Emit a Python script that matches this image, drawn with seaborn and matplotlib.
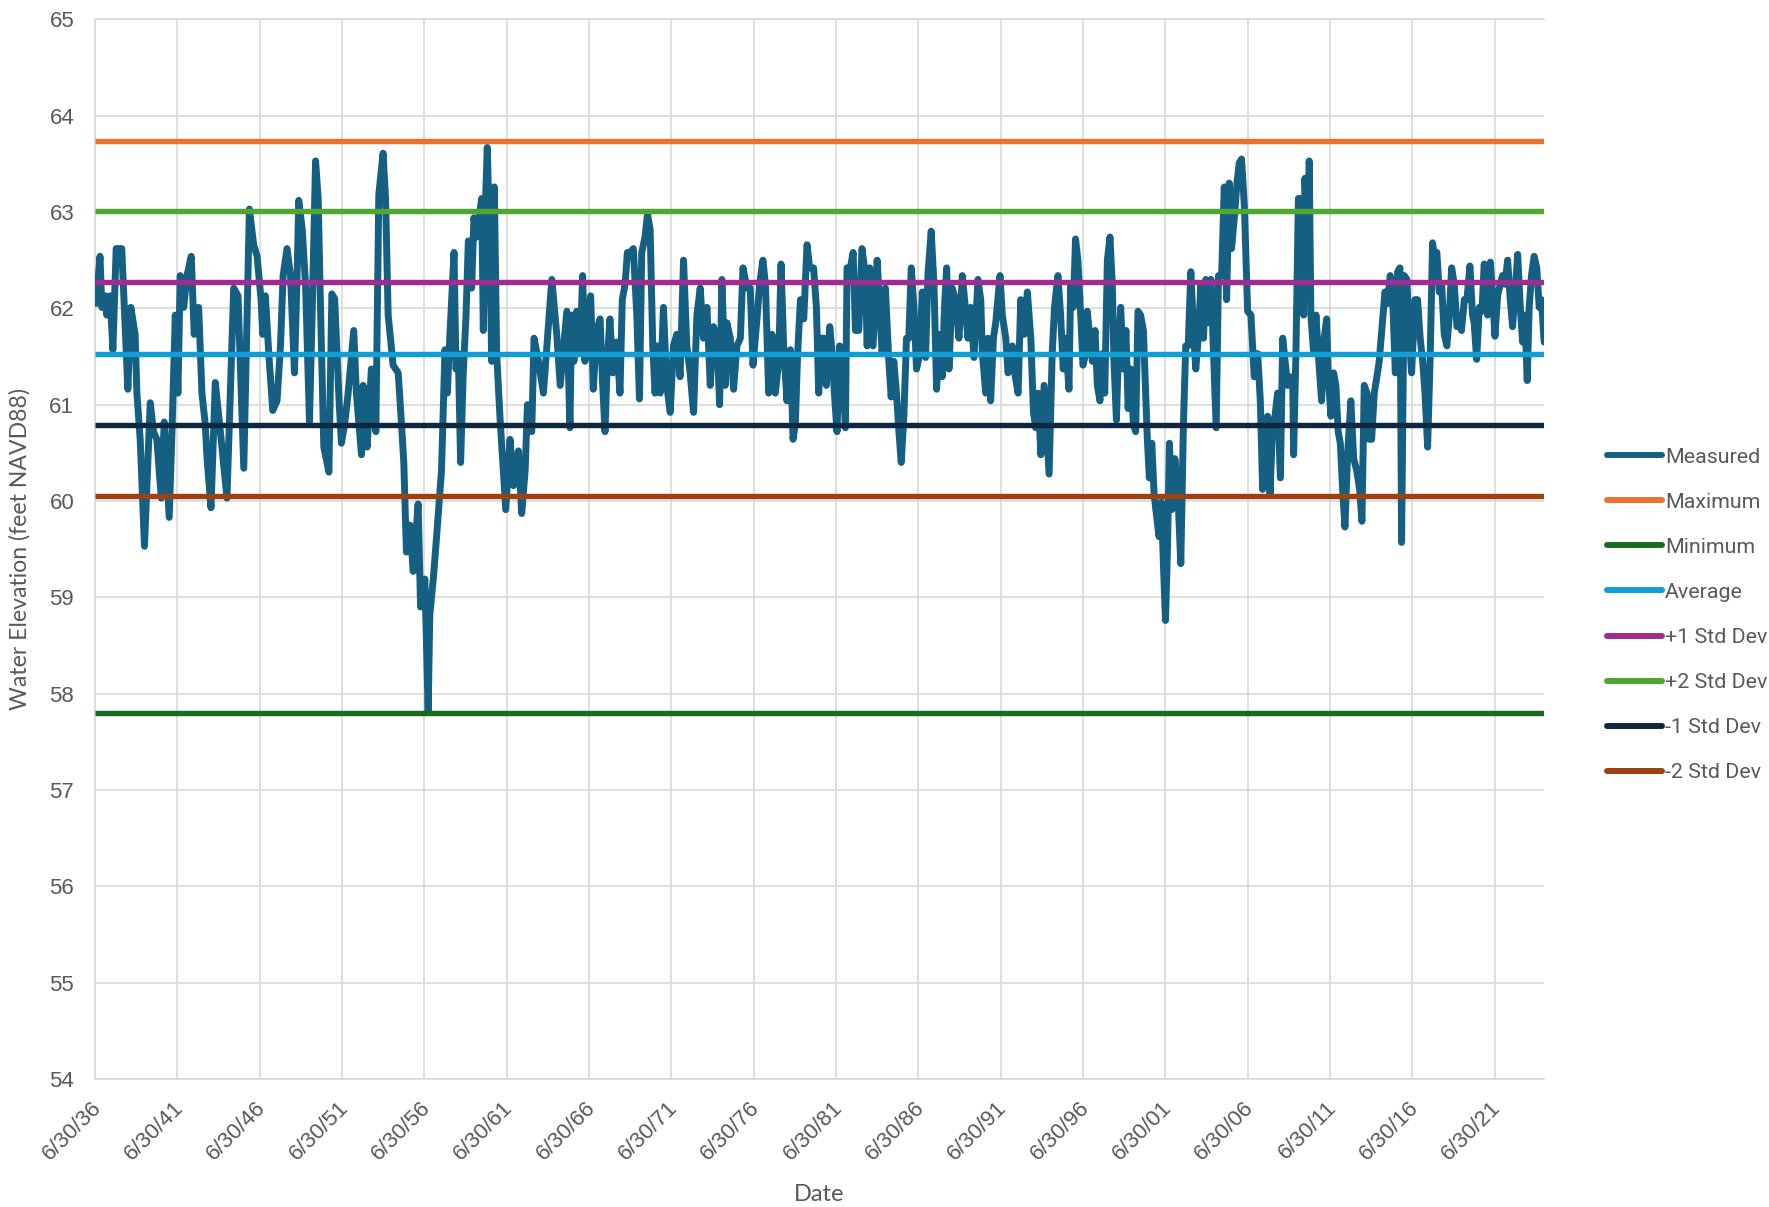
import pandas as pd
import matplotlib.pyplot as plt
import seaborn as sns
from matplotlib.lines import Line2D
from matplotlib.transforms import ScaledTranslation

# --- data (decimal year, feet NAVD88) ---
measured_year = [
    1936.56, 1936.80, 1936.91, 1937.11, 1937.21, 1937.41, 1937.58, 1937.78, 1938.12, 1938.49,
    1938.67, 1938.93, 1939.04, 1939.24, 1939.50, 1939.85, 1940.05, 1940.25, 1940.52, 1940.70,
    1941.00, 1941.17, 1941.37, 1941.53, 1941.67, 1941.88, 1942.08, 1942.34, 1942.52, 1942.79,
    1942.99, 1943.19, 1943.30, 1943.54, 1943.80, 1944.11, 1944.27, 1944.51, 1944.92, 1945.18,
    1945.53, 1945.87, 1946.13, 1946.34, 1946.58, 1946.68, 1946.84, 1947.05, 1947.29, 1947.55,
    1947.76, 1947.92, 1948.16, 1948.37, 1948.61, 1948.77, 1948.87, 1949.08, 1949.28, 1949.52,
    1949.68, 1949.89, 1950.05, 1950.19, 1950.39, 1950.70, 1950.88, 1951.05, 1951.32, 1951.46,
    1951.66, 1951.87, 1952.21, 1952.37, 1952.68, 1952.78, 1952.94, 1953.02, 1953.28, 1953.55,
    1953.73, 1953.99, 1954.14, 1954.30, 1954.60, 1954.91, 1955.11, 1955.25, 1955.41, 1955.62,
    1955.82, 1956.12, 1956.27, 1956.53, 1956.73, 1956.83, 1957.04, 1957.24, 1957.54, 1957.75,
    1957.89, 1958.05, 1958.30, 1958.42, 1958.56, 1958.70, 1958.86, 1959.03, 1959.17, 1959.37,
    1959.51, 1959.67, 1959.98, 1960.08, 1960.18, 1960.32, 1960.45, 1960.59, 1960.75, 1960.89,
    1961.10, 1961.44, 1961.70, 1961.91, 1962.21, 1962.41, 1962.62, 1962.76, 1963.02, 1963.16,
    1963.43, 1963.73, 1964.24, 1964.54, 1964.75, 1965.15, 1965.34, 1965.44, 1965.58, 1965.75,
    1965.95, 1966.11, 1966.25, 1966.46, 1966.60, 1966.76, 1966.96, 1967.17, 1967.33, 1967.47,
    1967.61, 1967.77, 1967.94, 1968.18, 1968.38, 1968.52, 1968.69, 1968.83, 1968.99, 1969.19,
    1969.40, 1969.56, 1969.70, 1969.90, 1970.05, 1970.21, 1970.37, 1970.51, 1970.65, 1970.82,
    1971.02, 1971.22, 1971.43, 1971.63, 1971.83, 1972.03, 1972.24, 1972.44, 1972.64, 1972.85,
    1973.05, 1973.25, 1973.45, 1973.66, 1973.86, 1974.06, 1974.27, 1974.43, 1974.57, 1974.77,
    1974.87, 1975.08, 1975.28, 1975.48, 1975.69, 1975.85, 1976.09, 1976.29, 1976.46, 1976.70,
    1976.86, 1977.06, 1977.21, 1977.41, 1977.61, 1977.81, 1978.02, 1978.16, 1978.32, 1978.52,
    1978.73, 1978.89, 1979.03, 1979.17, 1979.34, 1979.54, 1979.74, 1979.90, 1980.14, 1980.31,
    1980.45, 1980.59, 1980.75, 1980.91, 1981.12, 1981.26, 1981.40, 1981.56, 1981.72, 1981.97,
    1982.07, 1982.17, 1982.37, 1982.54, 1982.68, 1982.88, 1983.08, 1983.29, 1983.39, 1983.55,
    1983.75, 1984.00, 1984.16, 1984.30, 1984.50, 1984.71, 1984.85, 1985.01, 1985.17, 1985.32,
    1985.46, 1985.62, 1985.78, 1985.92, 1986.07, 1986.23, 1986.39, 1986.59, 1986.74, 1986.94,
    1987.08, 1987.28, 1987.45, 1987.61, 1987.75, 1987.95, 1988.09, 1988.22, 1988.36, 1988.56,
    1988.76, 1988.97, 1989.17, 1989.31, 1989.51, 1989.68, 1989.88, 1990.12, 1990.29, 1990.39,
    1990.59, 1990.73, 1990.89, 1991.06, 1991.20, 1991.46, 1991.60, 1991.81, 1991.95, 1992.21,
    1992.35, 1992.56, 1992.72, 1992.92, 1993.12, 1993.33, 1993.49, 1993.63, 1993.77, 1993.94,
    1994.14, 1994.30, 1994.44, 1994.63, 1994.77, 1994.98, 1995.14, 1995.30, 1995.44, 1995.65,
    1995.75, 1995.91, 1996.05, 1996.19, 1996.36, 1996.50, 1996.66, 1996.76, 1996.92, 1997.07,
    1997.23, 1997.37, 1997.53, 1997.67, 1997.82, 1997.98, 1998.14, 1998.28, 1998.38, 1998.53,
    1998.65, 1998.79, 1998.95, 1999.11, 1999.24, 1999.40, 1999.56, 1999.70, 1999.84, 2000.00,
    2000.17, 2000.31, 2000.41, 2000.53, 2000.68, 2000.82, 2000.98, 2001.12, 2001.26, 2001.39,
    2001.51, 2001.63, 2001.75, 2001.89, 2002.08, 2002.24, 2002.44, 2002.60, 2002.74, 2002.89,
    2003.05, 2003.21, 2003.35, 2003.50, 2003.66, 2003.82, 2003.96, 2004.10, 2004.27, 2004.43,
    2004.59, 2004.73, 2004.92, 2005.08, 2005.22, 2005.38, 2005.52, 2005.69, 2005.85, 2005.99,
    2006.13, 2006.30, 2006.50, 2006.70, 2006.90, 2007.11, 2007.27, 2007.41, 2007.55, 2007.71,
    2007.86, 2008.02, 2008.16, 2008.32, 2008.49, 2008.63, 2008.73, 2008.93, 2009.10, 2009.24,
    2009.29, 2009.43, 2009.58, 2009.74, 2009.90, 2009.98, 2010.14, 2010.24, 2010.34, 2010.51,
    2010.65, 2010.79, 2010.99, 2011.15, 2011.30, 2011.40, 2011.56, 2011.72, 2011.86, 2012.00,
    2012.13, 2012.27, 2012.41, 2012.57, 2012.77, 2012.94, 2013.12, 2013.30, 2013.44, 2013.58,
    2013.75, 2013.89, 2014.03, 2014.19, 2014.35, 2014.49, 2014.70, 2014.84, 2015.00, 2015.16,
    2015.30, 2015.47, 2015.61, 2015.75, 2015.85, 2016.01, 2016.17, 2016.32, 2016.46, 2016.66,
    2016.82, 2016.98, 2017.13, 2017.27, 2017.43, 2017.59, 2017.73, 2017.87, 2017.99, 2018.14,
    2018.28, 2018.44, 2018.60, 2018.75, 2018.89, 2019.05, 2019.21, 2019.35, 2019.49, 2019.66,
    2019.82, 2020.00, 2020.16, 2020.26, 2020.41, 2020.57, 2020.73, 2020.87, 2021.07, 2021.24,
    2021.38, 2021.52, 2021.68, 2021.84, 2021.98, 2022.13, 2022.29, 2022.45, 2022.59, 2022.73,
    2022.90, 2023.06, 2023.20, 2023.34, 2023.48, 2023.60, 2023.74, 2023.90, 2024.06, 2024.21,
    2024.35, 2024.51,
]
measured_feet = [
    62.05, 62.54, 62.01, 62.13, 61.93, 62.13, 61.57, 62.62, 62.62, 61.16,
    62.01, 61.73, 61.12, 60.64, 59.53, 61.02, 60.72, 60.64, 60.03, 60.82,
    59.83, 60.72, 61.93, 61.12, 62.34, 62.01, 62.34, 62.54, 61.73, 62.01,
    61.12, 60.80, 60.44, 59.93, 61.23, 60.72, 60.44, 60.03, 62.21, 62.13,
    60.34, 63.03, 62.66, 62.54, 62.09, 61.73, 62.13, 61.53, 60.94, 61.04,
    61.61, 62.34, 62.62, 62.34, 61.33, 62.34, 63.12, 62.82, 62.25, 60.82,
    61.93, 63.53, 63.14, 62.01, 60.56, 60.30, 62.15, 62.10, 61.04, 60.60,
    60.80, 61.12, 61.77, 61.12, 60.48, 61.20, 60.72, 60.56, 61.37, 60.72,
    63.18, 63.61, 63.14, 61.93, 61.41, 61.33, 60.80, 60.40, 59.47, 59.75,
    59.27, 59.97, 58.90, 59.19, 57.81, 58.82, 59.19, 59.63, 60.32, 61.57,
    61.12, 61.73, 62.58, 61.37, 61.53, 60.40, 61.33, 61.93, 62.70, 62.21,
    62.94, 62.74, 63.14, 61.77, 62.94, 63.67, 62.82, 61.45, 63.26, 61.53,
    60.84, 59.91, 60.64, 60.16, 60.52, 59.87, 60.32, 61.00, 60.72, 61.69,
    61.45, 61.12, 62.30, 61.73, 61.20, 61.97, 60.76, 61.93, 61.45, 61.97,
    61.53, 62.34, 61.45, 61.93, 62.13, 61.16, 61.77, 61.89, 61.20, 60.72,
    61.45, 61.89, 61.33, 61.65, 61.12, 62.09, 62.25, 62.58, 62.58, 62.62,
    61.93, 61.06, 62.58, 62.74, 62.98, 62.82, 61.61, 61.12, 61.61, 61.12,
    62.01, 61.20, 60.92, 61.61, 61.73, 61.29, 62.50, 61.61, 61.33, 60.92,
    61.93, 62.21, 61.69, 62.01, 61.20, 61.81, 61.69, 61.00, 62.30, 61.20,
    61.85, 61.69, 61.16, 61.61, 61.69, 62.42, 62.21, 62.21, 61.41, 61.89,
    62.25, 62.50, 62.25, 61.12, 61.73, 61.12, 61.45, 62.46, 61.61, 61.04,
    61.57, 60.64, 60.80, 61.53, 62.09, 61.89, 62.66, 62.42, 62.42, 62.01,
    61.12, 61.69, 61.69, 61.20, 61.81, 61.53, 61.12, 60.72, 61.61, 61.12,
    60.76, 62.42, 62.42, 62.58, 61.77, 61.77, 62.62, 62.34, 61.61, 62.42,
    61.61, 62.50, 62.01, 61.53, 62.21, 61.45, 61.08, 61.45, 61.12, 60.72,
    60.40, 60.88, 61.69, 61.69, 62.42, 62.01, 61.37, 61.53, 62.17, 61.49,
    62.34, 62.80, 62.25, 61.16, 61.73, 61.29, 62.01, 62.42, 61.37, 62.21,
    62.09, 61.69, 62.34, 62.09, 61.69, 62.01, 61.49, 62.30, 62.09, 61.53,
    61.12, 61.69, 61.04, 61.69, 61.85, 62.34, 61.93, 61.69, 61.33, 61.61,
    61.33, 61.12, 62.09, 61.73, 62.17, 61.69, 60.92, 60.76, 61.12, 60.48,
    61.20, 60.72, 60.28, 61.53, 62.01, 62.34, 61.93, 61.37, 61.69, 61.16,
    62.25, 62.01, 62.72, 62.50, 61.93, 61.41, 61.53, 61.97, 61.69, 61.45,
    61.77, 61.20, 61.04, 61.53, 61.12, 62.50, 62.74, 62.25, 61.45, 60.84,
    61.53, 62.01, 61.37, 61.77, 60.96, 61.37, 60.80, 60.72, 61.97, 61.93,
    61.77, 61.12, 60.64, 60.24, 60.60, 60.07, 59.83, 59.63, 59.99, 59.31,
    58.76, 59.51, 60.60, 59.91, 60.44, 60.16, 59.35, 60.80, 61.61, 61.61,
    62.38, 61.77, 61.37, 61.69, 62.25, 61.69, 62.30, 61.85, 62.30, 61.53,
    60.76, 62.34, 62.34, 63.26, 62.09, 63.30, 62.62, 62.94, 63.30, 63.51,
    63.55, 63.06, 61.97, 61.93, 61.29, 61.53, 61.04, 60.12, 60.56, 60.88,
    60.07, 60.80, 60.88, 61.12, 60.24, 61.69, 61.53, 61.20, 61.29, 61.20,
    60.48, 61.53, 63.14, 63.14, 61.93, 63.35, 62.50, 63.53, 61.93, 61.53,
    61.93, 61.53, 61.04, 61.69, 61.89, 61.29, 60.88, 61.33, 61.20, 60.72,
    60.60, 60.12, 59.73, 60.48, 61.04, 60.44, 60.32, 60.12, 59.79, 61.20,
    61.12, 60.64, 60.64, 61.12, 61.29, 61.45, 61.89, 62.17, 62.05, 62.34,
    62.13, 61.33, 62.38, 62.42, 59.57, 62.34, 62.30, 61.69, 61.33, 62.09,
    62.09, 61.69, 61.45, 61.12, 60.56, 61.53, 62.68, 62.50, 62.58, 62.17,
    62.25, 61.73, 61.61, 61.93, 62.42, 62.25, 61.81, 61.85, 61.77, 62.09,
    62.09, 62.44, 61.93, 61.85, 61.47, 62.01, 61.97, 62.46, 61.93, 62.48,
    62.13, 61.71, 62.13, 62.25, 62.34, 62.25, 62.50, 62.09, 61.81, 62.13,
    62.56, 62.01, 61.65, 61.93, 61.25, 62.01, 62.34, 62.54, 62.42, 62.01,
    62.09, 61.65,
]

stat_names = ['Maximum', 'Minimum', 'Average', '+1 Std Dev', '+2 Std Dev', '-1 Std Dev', '-2 Std Dev']
stat_values = [63.74, 57.80, 61.53, 62.27, 63.01, 60.79, 60.05]
stat_colors = ['#E97132', '#196B24', '#0F9ED5', '#A02B93', '#4EA72E', '#0E2841', '#9C4112']
measured_color = '#156082'

tick_years = [1936, 1941, 1946, 1951, 1956, 1961, 1966, 1971, 1976, 1981, 1986, 1991,
              1996, 2001, 2006, 2011, 2016, 2021]
tick_labels = ['6/30/36', '6/30/41', '6/30/46', '6/30/51', '6/30/56', '6/30/61', '6/30/66',
               '6/30/71', '6/30/76', '6/30/81', '6/30/86', '6/30/91', '6/30/96', '6/30/01',
               '6/30/06', '6/30/11', '6/30/16', '6/30/21']


def year_to_date(y):
    yr = int(y)
    return pd.Timestamp(year=yr, month=1, day=1) + pd.Timedelta(days=(y - yr) * 365.25)


df = pd.DataFrame({'date': [year_to_date(y) for y in measured_year], 'elev': measured_feet})

# --- plot ---
sns.set_style('white')
plt.rcParams['font.family'] = ['Lato', 'DejaVu Sans']
grey = '#595959'
grid = '#D9D9D9'

fig = plt.figure(figsize=(17.69, 12.07), dpi=100)
ax = fig.add_axes([0.0537, 0.106, 0.8192, 0.878])

sns.lineplot(data=df, x='date', y='elev', ax=ax, color=measured_color, lw=5,
             solid_joinstyle='round', solid_capstyle='round', zorder=3)
for v, c in zip(stat_values, stat_colors):
    ax.axhline(v, color=c, lw=3.9, zorder=4, solid_capstyle='butt')

x0 = pd.Timestamp('1936-06-30')
x1 = df['date'].iloc[-1]
ax.set_xlim(x0, x1)
ax.set_ylim(54, 65)
ax.set_yticks(range(54, 66))
ax.set_xticks([pd.Timestamp(f'{y}-06-30') for y in tick_years])

ax.grid(True, color=grid, lw=1.2, zorder=0)
ax.set_axisbelow(True)
for s in ax.spines.values():
    s.set_color(grid)
    s.set_linewidth(1.2)
ax.spines['right'].set_visible(False)
ax.tick_params(axis='x', colors=grid, length=5, width=1.2, pad=2, labelcolor=grey)
ax.tick_params(axis='y', length=0, pad=15, labelcolor=grey)

ax.set_xticklabels(tick_labels, rotation=45, ha='right', rotation_mode='anchor',
                   family='Liberation Sans', fontsize=16, color=grey)
ax.set_yticklabels([str(v) for v in range(54, 66)], family='Liberation Sans',
                   fontsize=16, color=grey)
# nudge the slanted date labels a little down and left, like the original
shift = ScaledTranslation(-3 / 72, -6 / 72, fig.dpi_scale_trans)
for lab in ax.get_xticklabels():
    lab.set_transform(lab.get_transform() + shift)

ax.set_xlabel('Date', fontsize=17, color=grey, labelpad=14)
ax.set_ylabel('Water Elevation (feet NAVD88)', fontsize=16.6, color=grey, labelpad=13.5)

handles = [Line2D([], [], color=measured_color, lw=4.3, solid_capstyle='round')]
handles += [Line2D([], [], color=c, lw=4.3, solid_capstyle='round') for c in stat_colors]
labels = ['Measured'] + stat_names
fig.legend(handles, labels, loc='center left', bbox_to_anchor=(0.9085, 0.4905), frameon=False,
           prop={'family': 'Roboto', 'size': 15.4}, labelcolor=grey, handlelength=2.55,
           handletextpad=0.15, labelspacing=1.22, borderaxespad=0, borderpad=0)

fig.savefig('out.png', dpi=100)
